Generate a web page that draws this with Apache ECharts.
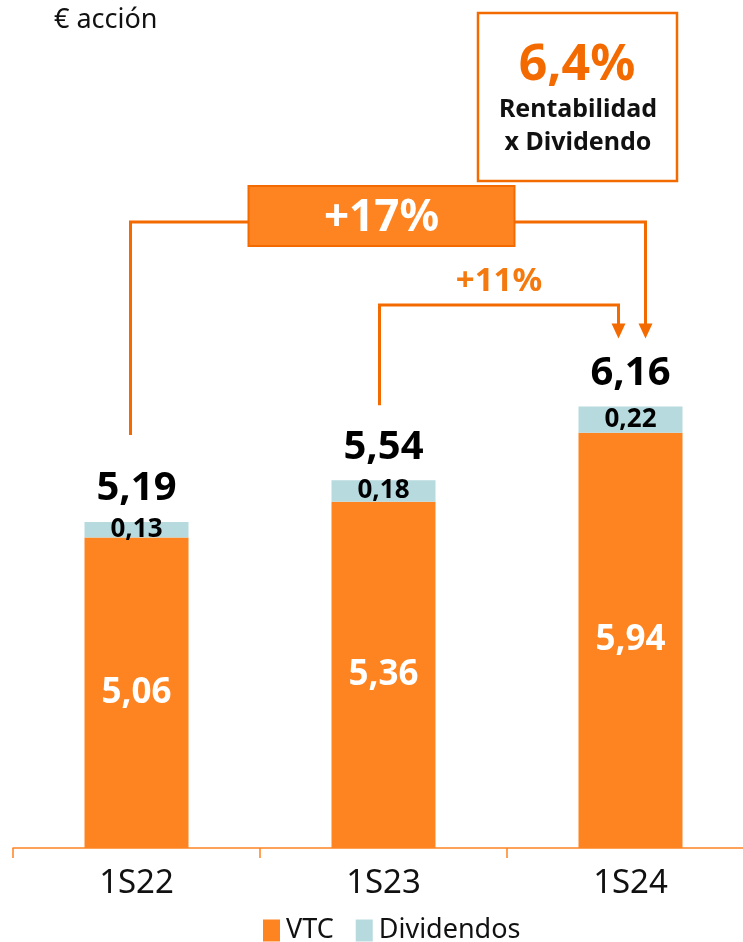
<!DOCTYPE html>
<html>
<head>
<meta charset="utf-8">
<script src="https://cdn.jsdelivr.net/npm/echarts@6/dist/echarts.min.js"></script>
<style>
  html, body { margin:0; padding:0; background:#fff; overflow:hidden; }
  #chart { width:754px; height:942px; }
</style>
</head>
<body>
<div id="chart"></div>
<script>
var categories = ['1S22', '1S23', '1S24'];
var vtc = [5.06, 5.36, 5.94];
var dividendos = [0.13, 0.18, 0.22];
var totals = [5.19, 5.54, 6.16];
var growthAll = '+17%';
var growthLast = '+11%';
var yieldText = '6,4%';

var ORANGE = '#fd8420';
var DARK = '#f36b00';
var BLUE = '#b6dade';
var FONT = '"Noto Sans", sans-serif';

function fmt(v){
    return v.toFixed(2).replace('.', ',');
}

var chart = echarts.init(document.getElementById('chart'));

var option = {
    animation: false,
    textStyle: { fontFamily: FONT },
    grid: { left: 13, right: 0, top: 40, bottom: 94 },
    legend: {
        data: ['VTC', 'Dividendos'],
        top: 912,
        left: 258,
        itemWidth: 17,
        itemHeight: 22,
        itemGap: 22,
        icon: 'rect',
        textStyle: { fontSize: 27, color: '#111', fontFamily: FONT, padding: [0, 0, 0, 1] }
    },
    xAxis: {
        type: 'category',
        data: categories,
        axisLine: { lineStyle: { color: ORANGE, width: 1.5 } },
        axisTick: { show: true, length: 10, lineStyle: { color: ORANGE, width: 1.5 } },
        axisLabel: { fontSize: 33, color: '#111', margin: 19, fontFamily: FONT }
    },
    yAxis: {
        type: 'value',
        min: 2.45,
        max: 9.24,
        show: false,
        splitLine: { show: false }
    },
    series: [
        {
            name: 'VTC',
            type: 'bar',
            stack: 'a',
            barWidth: 104,
            data: vtc,
            itemStyle: { color: ORANGE },
            label: {
                show: true,
                position: 'inside',
                color: '#fff',
                fontSize: 35,
                fontWeight: 'bold',
                formatter: function(p){ return fmt(p.value); }
            }
        },
        {
            name: 'Dividendos',
            type: 'bar',
            stack: 'a',
            barWidth: 104,
            data: dividendos,
            itemStyle: { color: BLUE },
            label: {
                show: true,
                position: 'inside',
                color: '#000',
                fontSize: 26,
                fontWeight: 'bold',
                formatter: function(p){ return fmt(p.value); }
            }
        },
        {
            name: 'total',
            type: 'scatter',
            symbolSize: 0,
            data: totals,
            silent: true,
            itemStyle: { opacity: 1 },
            label: {
                show: true,
                position: 'top',
                distance: 13,
                color: '#000',
                fontSize: 40,
                fontWeight: 'bold',
                lineHeight: 40,
                formatter: function(p){ return fmt(p.value); }
            }
        }
    ]
};
chart.setOption(option);

// annotation brackets, placed from the chart's own scales
function px(i, v){
    return chart.convertToPixel({ xAxisIndex: 0, yAxisIndex: 0 }, [i, v]);
}
var p0 = px(0, totals[0]);
var p1 = px(1, totals[1]);
var p2 = px(2, totals[2]);

var lineY17 = 222;
var lineY11 = 305;
var tipY = p2[1] - 68;
var lineStyle = { stroke: DARK, lineWidth: 3, fill: null };

function arrow(x){
    return {
        type: 'polygon',
        shape: { points: [[x - 7, tipY - 15], [x + 7, tipY - 15], [x, tipY]] },
        style: { fill: DARK }
    };
}

var xl17 = p0[0] - 6, xr17 = p2[0] + 15;
var xl11 = p1[0] - 4, xr11 = p2[0] - 12;
var boxCx = p1[0] - 2;

chart.setOption({
    graphic: [
        {
            type: 'text', left: 54, top: 7,
            style: { text: '€ acción', fontSize: 27, fill: '#111', fontFamily: FONT }
        },
        // yield box
        {
            type: 'rect',
            shape: { x: 478, y: 13, width: 199, height: 168 },
            style: { fill: '#fff', stroke: DARK, lineWidth: 2.5 }
        },
        {
            type: 'text', x: 577, y: 66,
            style: { text: yieldText, fontSize: 50, fontWeight: 'bold', fill: DARK, fontFamily: FONT, align: 'center', verticalAlign: 'middle' }
        },
        {
            type: 'text', x: 578, y: 110,
            style: { text: 'Rentabilidad', fontSize: 25, fontWeight: 'bold', fill: '#111', fontFamily: FONT, align: 'center', verticalAlign: 'middle' }
        },
        {
            type: 'text', x: 578, y: 143,
            style: { text: 'x Dividendo', fontSize: 25, fontWeight: 'bold', fill: '#111', fontFamily: FONT, align: 'center', verticalAlign: 'middle' }
        },
        // +17% bracket
        {
            type: 'polyline',
            shape: { points: [[xl17, p0[1] - 87], [xl17, lineY17], [xr17, lineY17], [xr17, tipY - 12]] },
            style: lineStyle
        },
        arrow(xr17),
        {
            type: 'rect',
            shape: { x: boxCx - 133, y: 186, width: 266, height: 60 },
            style: { fill: ORANGE, stroke: DARK, lineWidth: 2 }
        },
        {
            type: 'text', x: boxCx, y: 218,
            style: { text: growthAll, fontSize: 44, fontWeight: 'bold', fill: '#fff', fontFamily: FONT, align: 'center', verticalAlign: 'middle' }
        },
        // +11% bracket
        {
            type: 'polyline',
            shape: { points: [[xl11, p1[1] - 75], [xl11, lineY11], [xr11, lineY11], [xr11, tipY - 12]] },
            style: lineStyle
        },
        arrow(xr11),
        {
            type: 'text', x: (xl11 + xr11) / 2, y: 282,
            style: { text: growthLast, fontSize: 33, fontWeight: 'bold', fill: '#f47a10', fontFamily: FONT, align: 'center', verticalAlign: 'middle' }
        }
    ]
});
</script>
</body>
</html>
